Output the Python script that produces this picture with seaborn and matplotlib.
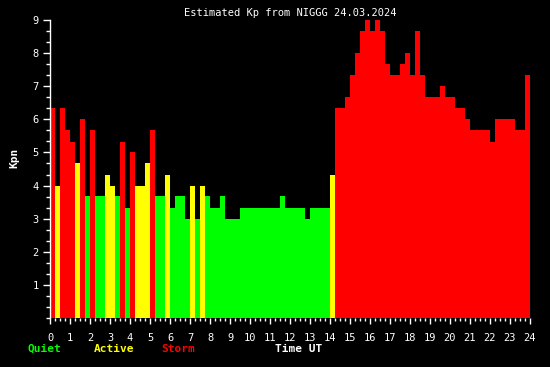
import numpy as np
import pandas as pd
import seaborn as sns
import matplotlib.pyplot as plt
from matplotlib.ticker import FixedLocator

# Kp values every 15 minutes, 24.03.2024
kp = [6.33, 4.0, 6.33, 5.67, 5.33, 4.67, 6.0, 3.67, 5.67, 3.67, 3.67, 4.33,
      4.0, 3.67, 5.33, 3.33, 5.0, 4.0, 4.0, 4.67, 5.67, 3.67, 3.67, 4.33,
      3.33, 3.67, 3.67, 3.0, 4.0, 3.0, 4.0, 3.67, 3.33, 3.33, 3.67, 3.0,
      3.0, 3.0, 3.33, 3.33, 3.33, 3.33, 3.33, 3.33, 3.33, 3.33, 3.67, 3.33,
      3.33, 3.33, 3.33, 3.0, 3.33, 3.33, 3.33, 3.33, 4.33, 6.33, 6.33, 6.67,
      7.33, 8.0, 8.67, 9.0, 8.67, 9.0, 8.67, 7.67, 7.33, 7.33, 7.67, 8.0,
      7.33, 8.67, 7.33, 6.67, 6.67, 6.67, 7.0, 6.67, 6.67, 6.33, 6.33, 6.0,
      5.67, 5.67, 5.67, 5.67, 5.33, 6.0, 6.0, 6.0, 6.0, 5.67, 5.67, 7.33]
hours = np.arange(len(kp)) * 0.25 + 0.125
levels = ['Quiet', 'Active', 'Storm']
level_colors = {'Quiet': '#00ff00', 'Active': '#ffff00', 'Storm': '#ff0000'}

df = pd.DataFrame({'time': hours, 'kp': kp})
df['level'] = pd.cut(df['kp'], [0, 3.9, 4.9, 10], labels=levels).astype(str)

sns.set_style('dark')
plt.rcParams['font.family'] = ['DejaVu Sans Mono']

fig = plt.figure(figsize=(5.5, 3.67), dpi=100, facecolor='black')
ax = fig.add_axes([50 / 550, 49 / 367, 480 / 550, 298 / 367])
ax.set_facecolor('black')

sns.barplot(data=df, x='time', y='kp', hue='level', hue_order=levels,
            palette=level_colors, native_scale=True, width=1, dodge=False,
            errorbar=None, saturation=1, linewidth=0, legend=False, ax=ax)
for p in ax.patches:
    p.set_antialiased(False)

ax.set_xlim(0, 24)
ax.set_ylim(0, 9)
ax.grid(False)
for s in ['top', 'right', 'bottom']:
    ax.spines[s].set_visible(False)
ax.spines['left'].set_color('white')
ax.spines['left'].set_linewidth(1)

ax.set_xticks(range(25))
ax.set_xticklabels([str(h) for h in range(25)])
ax.xaxis.set_minor_locator(FixedLocator(np.arange(0, 24.01, 0.25)))
ax.set_yticks(range(1, 10))
ax.yaxis.set_minor_locator(FixedLocator(np.arange(0, 9.01, 1 / 3)))
ax.tick_params(which='both', bottom=True, left=True, color='white',
               labelcolor='white', labelsize=7.5, direction='out', width=1)
ax.tick_params(axis='x', which='major', length=4, pad=7)
ax.tick_params(axis='x', which='minor', length=2.5)
ax.tick_params(axis='y', which='major', length=5, pad=3)
ax.tick_params(axis='y', which='minor', length=3)
ax.set_xlabel('')
ax.set_ylabel('')

ax.set_title('Estimated Kp from NIGGG 24.03.2024', color='white', fontsize=7.5, pad=3)
fig.text(14 / 550, 1 - 158 / 367, 'Kpn', color='white', fontsize=8, fontweight='bold',
         rotation=90, ha='center', va='center')

for label, x in [('Quiet', 28), ('Active', 94), ('Storm', 161)]:
    fig.text(x / 550, 1 - 349 / 367, label, color=level_colors[label], fontsize=8,
             fontweight='bold', ha='left', va='center')
fig.text(275 / 550, 1 - 349 / 367, 'Time UT', color='white', fontsize=8,
         fontweight='bold', ha='left', va='center')

fig.savefig('out.png', dpi=100, facecolor='black')
